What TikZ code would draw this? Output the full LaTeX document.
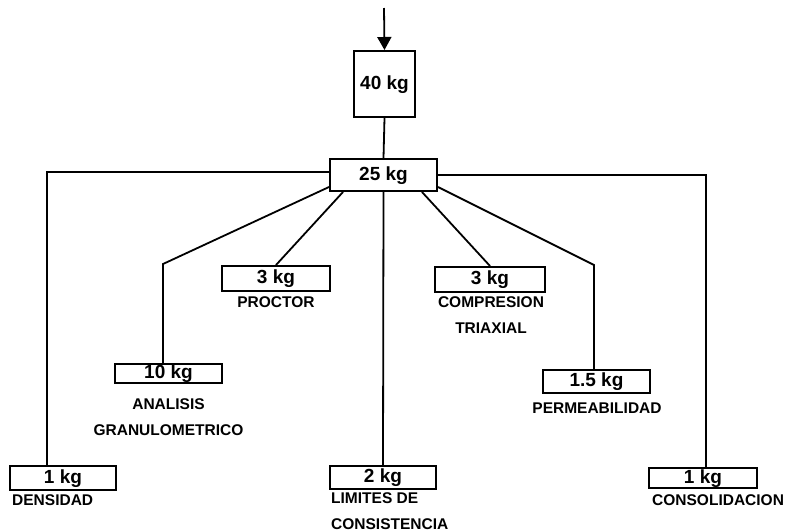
\documentclass[tikz,border=0pt]{standalone}
\usepackage{fontspec}
\setmainfont{Liberation Sans}
\usepackage{tikz}
\usetikzlibrary{arrows.meta, calc}

\begin{document}
\begin{tikzpicture}[
  x=1pt, y=-1pt,
  box/.style={rectangle, draw=black, fill=white, line width=2pt,
              inner sep=0pt, minimum width=107pt, minimum height=23pt,
              text height=10pt, text depth=0pt,
              font=\fontsize{19}{22}\selectfont\bfseries},
  lbl/.style={inner sep=0pt, font=\fontsize{15.5}{26}\selectfont\bfseries},
  ln/.style={line width=1.8pt, black},
  arr/.style={-{Triangle[length=13pt, width=14pt]}, line width=1.8pt, black}
]
\useasboundingbox (0,0) rectangle (795,531);
%% TOP: sample and split
\node[box, minimum width=61pt, minimum height=66pt] (s40) at (384.5, 84)  {40 kg};
\node[box, minimum height=32pt]                     (s25) at (383.5,175)  {25 kg};
\coordinate (feed) at (384,8);
\draw[arr] (feed) -- (s40.north);
\draw[ln]  (s40.south) -- (s25.north);
%% ROW 1: proctor, triaxial
\node[box, minimum width=108pt, minimum height=25pt] (proc) at (276,278.5) {3 kg};
\node[box, minimum width=110pt, minimum height=25pt] (triax) at (490,279.5) {3 kg};
\node[lbl] at (276,302) {PROCTOR};
\node[lbl, align=center] at (491,315) {COMPRESION\\TRIAXIAL};
\draw[ln] ([xshift=14pt]s25.south west) -- (proc.north);
\draw[ln] ([xshift=-16pt]s25.south east) -- (triax.north);
%% ROW 2: granulometry, permeability
\node[box, minimum height=19pt] (gran) at (168.5,373.5) {10 kg};
\node[box] (perm) at (596.5,381.5) {1.5 kg};
\node[lbl, align=center] at (168.5,417) {ANALISIS\\GRANULOMETRICO};
\node[lbl] at (597,408) {PERMEABILIDAD};
\coordinate (kgran) at (163,264);
\coordinate (kperm) at (594,265);
\draw[ln] ([yshift=5pt]s25.south west) -- (kgran) -- (kgran |- gran.north);
\draw[ln] ([yshift=5pt]s25.south east) -- (kperm) -- (kperm |- perm.north);
%% ROW 3: density, limits, consolidation
\node[box, minimum width=106pt, minimum height=24pt] (dens) at (63,478)    {1 kg};
\node[box, minimum width=106pt]                      (lim)  at (383,477.5) {2 kg};
\node[box, minimum width=108pt, minimum height=20pt] (cons) at (703,478)   {1 kg};
\node[lbl, anchor=west] at (12,500) {DENSIDAD};
\node[lbl, anchor=west, align=left] at (331,511) {LIMITES DE\\CONSISTENCIA};
\node[lbl, anchor=west] at (652,500) {CONSOLIDACION};
\draw[ln] ([yshift=3pt]s25.west) -| ([xshift=-16pt]dens.north);
\draw[ln] (s25.south) -- (lim.north);
\draw[ln] (s25.east) -| ([xshift=3pt]cons.north);
\end{tikzpicture}
\end{document}
